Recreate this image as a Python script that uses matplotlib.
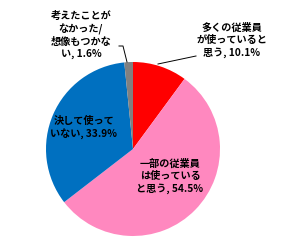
import matplotlib
matplotlib.use('Agg')
import matplotlib.pyplot as plt

plt.rcParams['font.family'] = ['Noto Sans CJK JP', 'DejaVu Sans']

labels = ['多くの従業員\nが使っていると\n思う, 10.1%',
          '一部の従業員\nは使っている\nと思う, 54.5%',
          '決して使って\nいない, 33.9%',
          '考えたことが\nなかった/\n想像もつかな\nい, 1.6%']
values = [10.1, 54.5, 33.9, 1.6]
colors = ['#FF0000', '#FF88BF', '#0070C0', '#808080']

# label placement in pixel coords (y down), leader polylines to the pie edge
text_pos = [(232, 40), (170, 176), (84, 128), (81, 35)]
leaders = [[(196, 56), (158, 64)], None, None,
           [(119, 46), (123, 46), (127, 62)]]

W, H = 290, 243
fig = plt.figure(figsize=(W / 100, H / 100), dpi=100)
ax = fig.add_axes([0, 0, 1, 1])

ax.pie(values, colors=colors, startangle=90, counterclock=False,
       center=(133, H - 149), radius=87, wedgeprops=dict(linewidth=0),
       frame=True)
ax.set_xlim(0, W)
ax.set_ylim(0, H)
ax.set_aspect('equal')
ax.axis('off')

for lab, (x, y) in zip(labels, text_pos):
    ax.text(x, H - y, lab, ha='center', va='center', fontsize=7.3,
            fontweight='bold', linespacing=1.25, color='black')

for ld in leaders:
    if ld is None:
        continue
    xs = [p[0] for p in ld]
    ys = [H - p[1] for p in ld]
    ax.plot(xs, ys, color='black', lw=0.7)

fig.savefig('out.png', dpi=100)
